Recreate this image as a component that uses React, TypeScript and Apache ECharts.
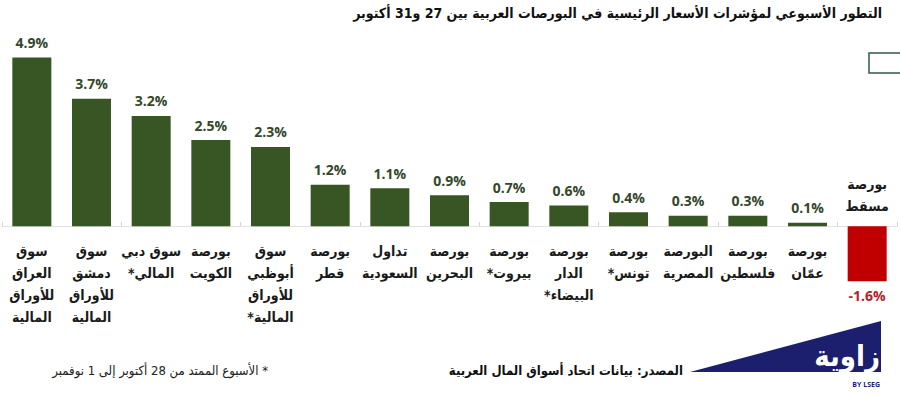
import React, { useEffect, useRef } from "react";
import * as echarts from "echarts";

const titleText = "التطور الأسبوعي لمؤشرات الأسعار الرئيسية في البورصات العربية بين 27 و31 أكتوبر";
const sourceText = "المصدر: بيانات اتحاد أسواق المال العربية";
const footnoteText = "* الأسبوع الممتد من 28 أكتوبر إلى 1 نوفمبر";
const logoText = "زاوية";
const logoSub = "BY LSEG";

const categories = [
  "سوق\nالعراق\nللأوراق\nالمالية",
  "سوق\nدمشق\nللأوراق\nالمالية",
  "سوق دبي\nالمالي*",
  "بورصة\nالكويت",
  "سوق\nأبوظبي\nللأوراق\nالمالية*",
  "بورصة\nقطر",
  "تداول\nالسعودية",
  "بورصة\nالبحرين",
  "بورصة\nبيروت*",
  "بورصة\nالدار\nالبيضاء*",
  "بورصة\nتونس*",
  "البورصة\nالمصرية",
  "بورصة\nفلسطين",
  "بورصة\nعمّان",
  "بورصة\nمسقط",
];

const changes = [4.9, 3.7, 3.2, 2.5, 2.3, 1.2, 1.1, 0.9, 0.7, 0.6, 0.4, 0.3, 0.3, 0.1, -1.6];

const GREEN = "#375623";
const GREEN_LABEL = "#34472a";
const RED = "#c00000";
const RED_LABEL = "#b3232b";
const NAVY = "#1b1f6e";
const AR_FONT = "'DejaVu Sans Condensed', 'DejaVu Sans', sans-serif";
const NUM_FONT = "'Open Sans', 'DejaVu Sans', sans-serif";

const RLM = "\u200F";
const rtl = (s: string) => s.split("\n").map((l) => l + RLM).join("\n");

export default function App() {
  const ref = useRef<HTMLDivElement>(null);
  useEffect(() => {
    if (!ref.current) return;
    const chart = echarts.init(ref.current, undefined, { renderer: "svg" });
    const cats = categories.map(rtl);
    chart.setOption({
      animation: false,
      backgroundColor: "#ffffff",
      title: {
        text: titleText,
        right: 13,
        top: 1,
        textStyle: { fontFamily: AR_FONT, fontSize: 14, fontWeight: "bold", color: "#111" },
      },
      grid: { left: 2, right: 3, top: 54, bottom: 103 },
      xAxis: {
        type: "category",
        data: cats,
        axisLabel: { show: false },
        axisLine: { lineStyle: { color: "#e2e2e2", width: 1 } },
        axisTick: { show: true, inside: true, length: 4, lineStyle: { color: "#d6d6d6" } },
        splitLine: { show: false },
      },
      yAxis: {
        type: "value",
        min: -2,
        max: 5,
        show: false,
      },
      series: [
        {
          type: "bar",
          name: "values",
          barWidth: 39,
          data: changes.map((v) => ({
            value: v,
            itemStyle: { color: v < 0 ? RED : GREEN },
            label: {
              position: v < 0 ? "bottom" : "top",
              color: v < 0 ? RED_LABEL : GREEN_LABEL,
              distance: v < 0 ? 7 : 8,
            },
          })),
          label: {
            show: true,
            fontFamily: NUM_FONT,
            fontSize: 14,
            fontWeight: "bold",
            formatter: (p: any) => `${Number(p.value).toFixed(1)}%`,
          },
        },
        {
          type: "bar",
          name: "names",
          barWidth: 39,
          barGap: "-100%",
          silent: true,
          data: changes.map((v) => ({
            value: v,
            itemStyle: { color: "rgba(0,0,0,0)" },
            label: {
              position: v < 0 ? "top" : "bottom",
              distance: v < 0 ? 9 : 14,
            },
          })),
          label: {
            show: true,
            fontFamily: AR_FONT,
            fontSize: 14,
            fontWeight: "bold",
            color: "#1a1a1a",
            lineHeight: 22,
            align: "center",
            formatter: (p: any) => p.name,
          },
        },
      ],
      graphic: [
        {
          type: "rect",
          shape: { x: 869, y: 53, width: 40, height: 20 },
          style: { fill: "none", stroke: "#2f5a45", lineWidth: 1.5 },
        },
        {
          type: "polygon",
          shape: { points: [[690, 372], [881, 321], [881, 372]] },
          style: { fill: NAVY },
        },
        {
          type: "text",
          x: 880,
          y: 356,
          style: {
            text: logoText,
            align: "right",
            verticalAlign: "middle",
            fill: "#ffffff",
            font: `bold 29px ${AR_FONT}`,
          },
        },
        {
          type: "text",
          x: 880,
          y: 384,
          style: {
            text: logoSub,
            align: "right",
            verticalAlign: "middle",
            fill: NAVY,
            font: `bold 7px ${NUM_FONT}`,
          },
        },
        {
          type: "text",
          x: 683,
          y: 370,
          style: {
            text: sourceText,
            align: "right",
            verticalAlign: "middle",
            fill: "#111",
            font: `bold 13px ${AR_FONT}`,
          },
        },
        {
          type: "text",
          x: 268,
          y: 370,
          style: {
            text: RLM + footnoteText,
            align: "right",
            verticalAlign: "middle",
            fill: "#222",
            font: `13px ${AR_FONT}`,
          },
        },
      ],
    });
    return () => chart.dispose();
  }, []);
  return (
    <div
      ref={ref}
      style={{ position: "fixed", left: 0, top: 0, width: 900, height: 398, background: "#fff" }}
    />
  );
}
